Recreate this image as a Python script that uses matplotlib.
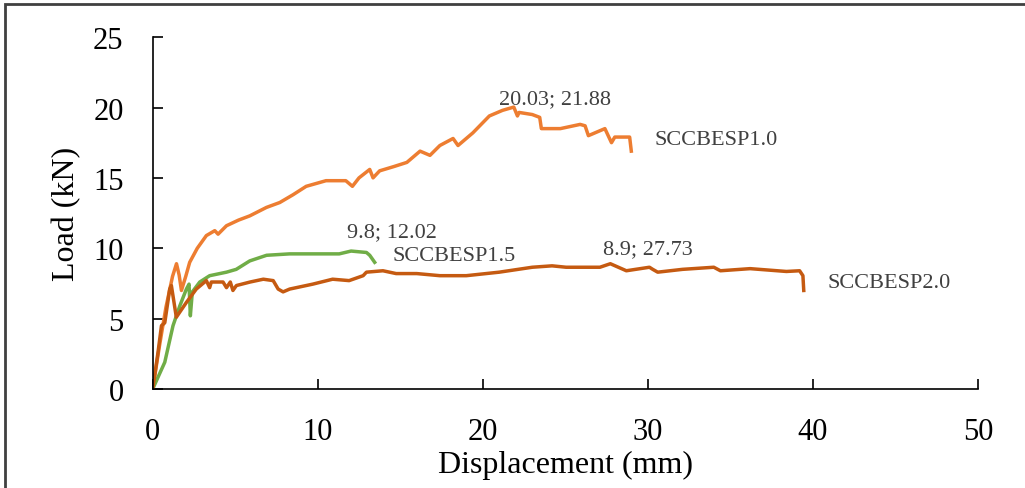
import matplotlib
matplotlib.use("Agg")
from matplotlib import pyplot as plt
from matplotlib.patches import Rectangle

# SCCBESP1.0 (orange)
x_10 = [0, 0.4, 0.8, 1.2, 1.44, 1.6, 1.74, 2.0, 2.24, 2.7, 3.25, 3.76, 3.96, 4.47, 5.2, 5.88,
        6.89, 7.7, 8.5, 9.3, 10.5, 11.7, 12.1, 12.5, 13.15, 13.35, 13.75, 14.6, 15.4, 16.2,
        16.8, 17.4, 18.2, 18.5, 19.4, 20.4, 21.2, 21.88, 22.1, 22.2, 23.0, 23.45, 23.55,
        24.7, 25.9, 26.2, 26.4, 27.4, 27.8, 28.0, 28.9, 29.0]
y_10 = [0, 3.0, 5.8, 8.0, 8.9, 8.1, 7.0, 8.0, 9.0, 10.0, 10.9, 11.25, 11.0, 11.6, 12.0, 12.3,
        12.9, 13.25, 13.8, 14.4, 14.8, 14.8, 14.4, 15.0, 15.6, 15.0, 15.5, 15.8, 16.1, 16.9,
        16.6, 17.3, 17.8, 17.3, 18.2, 19.4, 19.8, 20.03, 19.4, 19.65, 19.5, 19.3, 18.5,
        18.5, 18.8, 18.7, 18.0, 18.5, 17.5, 17.9, 17.9, 16.9]

# SCCBESP1.5 (green)
x_15 = [0, 0.73, 1.23, 1.64, 2.04, 2.2, 2.28, 2.4, 2.85, 3.45, 4.47, 5.06, 5.88, 6.9, 8.3,
        10.0, 11.3, 12.02, 12.95, 13.15, 13.45]
y_15 = [0, 1.9, 4.5, 5.9, 7.1, 7.45, 5.2, 6.9, 7.6, 8.05, 8.3, 8.5, 9.1, 9.5, 9.6,
        9.6, 9.6, 9.8, 9.7, 9.5, 9.0]

# SCCBESP2.0 (brown)
x_20 = [0, 0.32, 0.53, 0.73, 1.03, 1.13, 1.43, 2.04, 2.64, 3.25, 3.45, 3.55, 4.26, 4.47,
        4.7, 4.86, 5.07, 5.9, 6.7, 7.3, 7.6, 7.9, 8.3, 9.7, 10.9, 11.9, 12.75, 12.95, 13.95,
        14.75, 16.0, 17.4, 19.0, 21.0, 23.0, 24.2, 25.05, 27.1, 27.73, 28.7, 30.1, 30.3,
        30.6, 32.1, 34.0, 34.4, 36.2, 38.4, 39.2, 39.4, 39.45]
y_20 = [0, 2.6, 4.5, 4.7, 7.1, 7.35, 5.1, 6.15, 7.1, 7.7, 7.2, 7.6, 7.6, 7.2,
        7.6, 7.0, 7.35, 7.6, 7.8, 7.7, 7.1, 6.9, 7.1, 7.45, 7.8, 7.7, 8.05, 8.3, 8.4,
        8.2, 8.2, 8.05, 8.05, 8.3, 8.65, 8.75, 8.65, 8.65, 8.9, 8.4, 8.65, 8.5,
        8.3, 8.5, 8.65, 8.4, 8.55, 8.35, 8.4, 8.05, 7.0]

x_ticks = [0, 10, 20, 30, 40, 50]
y_ticks = [0, 5, 10, 15, 20, 25]

plt.rcParams['font.family'] = ['Liberation Serif', 'DejaVu Serif']

fig = plt.figure(figsize=(10.25, 4.89), dpi=100)
ax = fig.add_axes([0.149, 0.2025, 0.805, 0.7195])

ax.plot(x_10, y_10, color='#ED7D31', lw=2.5)
ax.plot(x_15, y_15, color='#70AD47', lw=2.5)
ax.plot(x_20, y_20, color='#C55A11', lw=2.5)

ax.set_xlim(0, 50)
ax.set_ylim(0, 25)
ax.set_xticks(x_ticks)
ax.set_yticks(y_ticks)
ax.tick_params(direction='in', length=7, width=1.2, labelsize=22, colors='black')
ax.tick_params(axis='x', pad=20)
ax.tick_params(axis='y', pad=21)
for s in ['top', 'right']:
  ax.spines[s].set_visible(False)
for s in ['left', 'bottom']:
  ax.spines[s].set_linewidth(1.2)

ax.set_xlabel('Displacement (mm)', fontsize=23)
ax.set_ylabel('Load (kN)', fontsize=23)
ax.xaxis.set_label_coords(0.5, -0.172)
ax.yaxis.set_label_coords(-0.087, 0.5)

# annotations
ax.text(24.4, 20.6, '20.03; 21.88', fontsize=16, color='#404040', ha='center', va='center')
ax.text(30.4, 17.75, 'SCCBESP1.0', fontsize=16, color='#404040', ha='left', va='center')
ax.text(14.5, 11.15, '9.8; 12.02', fontsize=16, color='#404040', ha='center', va='center')
ax.text(14.55, 9.5, 'SCCBESP1.5', fontsize=16, color='#404040', ha='left', va='center')
ax.text(30.0, 9.95, '8.9; 27.73', fontsize=16, color='#404040', ha='center', va='center')
ax.text(40.9, 7.6, 'SCCBESP2.0', fontsize=16, color='#404040', ha='left', va='center')

# outer frame, cut off at right and bottom
fig.patches.append(Rectangle((5 / 1025, -0.1), 1.2, 1.1 - 5 / 489,
                             transform=fig.transFigure, fill=False,
                             edgecolor='#404040', lw=2.0))

fig.savefig('out.png', dpi=100)
